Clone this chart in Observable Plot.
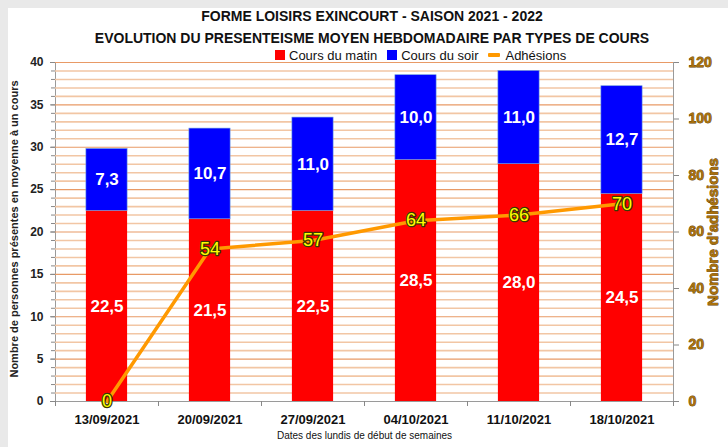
<!DOCTYPE html>
<html><head><meta charset="utf-8">
<script src="https://cdn.jsdelivr.net/npm/d3@7"></script>
<script src="https://cdn.jsdelivr.net/npm/@observablehq/plot@0.6"></script>
<style>
html,body{margin:0;padding:0;background:#e9e9e9;width:728px;height:447px;overflow:hidden;font-family:"Liberation Sans",Arial,sans-serif;}
#panel{position:absolute;left:8px;top:8px;right:0;bottom:0;background:#fff;}
.t{position:absolute;left:0;width:744px;text-align:center;font-weight:bold;font-size:14px;line-height:16px;color:#111;}
#legend{position:absolute;top:48px;left:275px;height:14px;display:flex;align-items:center;font-size:13px;color:#111;z-index:2;}
#legend .it{display:flex;align-items:center;margin-right:10px;}
#legend .sw{width:10px;height:10px;margin-right:4px;}
#legend .ln{width:12px;height:4px;background:#ff9900;margin-right:5px;border-radius:1px;}
#chart{position:absolute;left:0;top:46px;}
</style>
</head><body>
<div id="panel"></div>
<div class="t" style="top:8px">FORME LOISIRS EXINCOURT - SAISON 2021 - 2022</div>
<div class="t" style="top:30px">EVOLUTION DU PRESENTEISME MOYEN HEBDOMADAIRE PAR TYPES DE COURS</div>
<div id="legend"></div>
<div id="chart"></div>
<script>
const dates = ["13/09/2021", "20/09/2021", "27/09/2021", "04/10/2021", "11/10/2021", "18/10/2021"];
const matin = [22.5, 21.5, 22.5, 28.5, 28.0, 24.5];
const soir = [7.3, 10.7, 11.0, 10.0, 11.0, 12.7];
const adhesions = [0, 54, 57, 64, 66, 70];
const leftTicks = [0, 5, 10, 15, 20, 25, 30, 35, 40];
const rightTicks = [0, 20, 40, 60, 80, 100, 120];
const seriesNames = ["Cours du matin", "Cours du soir", "Adhésions"];
const seriesColors = ["#ff0000", "#0000ff", "#ff9900"];

const ratio = 120 / 40;
const rows = dates.map((d, i) => ({i, date: d, matin: matin[i], soir: soir[i], adh: adhesions[i]}));
const fmt = v => d3.format(".1f")(v).replace(".", ",");

// legend
const lg = document.getElementById("legend");
seriesNames.forEach((n, k) => {
  const it = document.createElement("div"); it.className = "it";
  const sw = document.createElement("div");
  sw.className = k < 2 ? "sw" : "ln";
  sw.style.background = seriesColors[k];
  it.appendChild(sw);
  const s = document.createElement("span"); s.textContent = n; it.appendChild(s);
  lg.appendChild(it);
});

const brown = "#a8700c";
const chart = Plot.plot({
  width: 728, height: 401,
  marginTop: 16, marginBottom: 46, marginLeft: 55, marginRight: 55,
  style: {fontFamily: "Liberation Sans, Arial, sans-serif", background: "transparent", overflow: "visible"},
  x: {type: "linear", domain: [-0.5, 5.5], axis: null},
  y: {domain: [0, 40], axis: null},
  marks: [
    Plot.frame({stroke: "#9a9a9a"}),
    Plot.ruleY(d3.range(1, 41).filter(v => v % 5), {stroke: "#f2c6a4", strokeWidth: 1.6}),
    Plot.ruleY(d3.range(5, 41, 5), {stroke: "#e89a66", strokeWidth: 1.2}),
    Plot.rectY(rows, {x1: d => d.i - 0.2, x2: d => d.i + 0.2, y1: d => 0, y2: "matin", fill: seriesColors[0]}),
    Plot.rectY(rows, {x1: d => d.i - 0.2, x2: d => d.i + 0.2, y1: "matin", y2: d => d.matin + d.soir, fill: seriesColors[1], stroke: "#6fa0e0", strokeWidth: 0.6}),
    Plot.text(rows, {x: "i", y: d => d.matin / 2, text: d => fmt(d.matin), fill: "white", fontSize: 17, fontWeight: "bold"}),
    Plot.text(rows, {x: "i", y: d => d.matin + d.soir / 2, text: d => fmt(d.soir), fill: "white", fontSize: 17, fontWeight: "bold"}),
    Plot.line(rows, {x: "i", y: d => d.adh / ratio, stroke: seriesColors[2], strokeWidth: 3.5}),
    Plot.text(rows, {x: "i", y: d => d.adh / ratio, text: d => String(d.adh), fill: "#ffff00", stroke: "#3a3a00", strokeWidth: 2.6, fontSize: 18}),
    Plot.axisX({ticks: d3.range(6), tickFormat: i => dates[i], tickSize: 0, tickPadding: 13, fontSize: 13, fontWeight: "bold", fill: "#111", label: null}),
    Plot.axisX({ticks: d3.range(-0.5, 6, 1), tickFormat: () => "", tickSize: 5, stroke: "#888", label: null}),
    Plot.axisY({ticks: leftTicks, tickSize: 5, tickPadding: 7, fontSize: 12, fontWeight: "bold", fill: "#222", stroke: "#888", label: null}),
    Plot.axisY({ticks: d3.range(41), tickSize: 4, tickFormat: () => "", stroke: "#888", label: null}),
    Plot.axisY({anchor: "right", ticks: rightTicks.map(v => v / ratio), tickFormat: v => String(Math.round(v * ratio)), tickSize: 5, tickPadding: 10, fontSize: 14, fontWeight: "bold", fill: brown, textStroke: "#5e3c00", textStrokeWidth: 0.8, stroke: "#888", label: null}),
    Plot.text(["Nombre de personnes présentes en moyenne à un cours"], {frameAnchor: "left", textAnchor: "middle", rotate: -90, dx: -41, dy: -3, fontSize: 11, fontWeight: "bold", fill: "#222"}),
    Plot.text(["Nombre d'adhésions"], {frameAnchor: "right", textAnchor: "middle", rotate: -90, dx: 40, fontSize: 15, fontWeight: "bold", fill: brown, stroke: "#5e3c00", strokeWidth: 0.8}),
    Plot.text(["Dates des lundis de début de semaines"], {frameAnchor: "bottom", dy: 37, fontSize: 10, fill: "#111"})
  ]
});
document.getElementById("chart").appendChild(chart);
</script>
</body></html>
